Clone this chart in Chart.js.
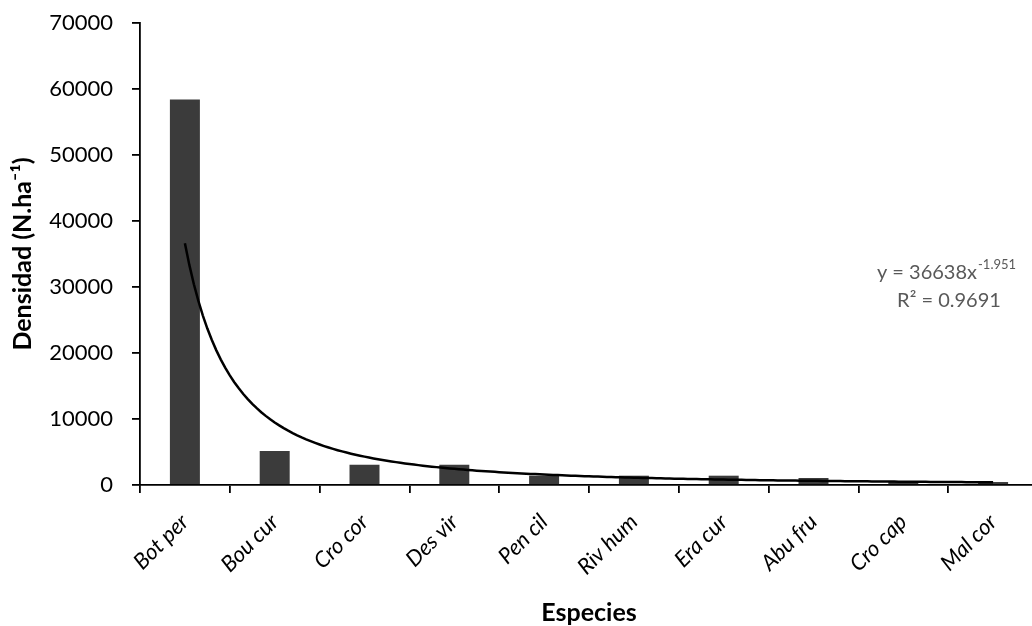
<!DOCTYPE html>
<html>
<head>
<meta charset="utf-8">
<script src="https://cdn.jsdelivr.net/npm/chart.js@4.4.0/dist/chart.umd.min.js"></script>
<style>
  html, body { margin: 0; padding: 0; background: #fff; overflow: hidden; }
  #wrap { width: 1032px; height: 626px; overflow: hidden; }
</style>
</head>
<body>
<div id="wrap"><canvas id="myBarChart" width="1040" height="626"></canvas></div>
<script>
// datos
const especies = ["Bot per", "Bou cur", "Cro cor", "Des vir", "Pen cil", "Riv hum", "Era cur", "Abu fru", "Cro cap", "Mal cor"];
const densidad = [58400, 5150, 3070, 3070, 1410, 1410, 1410, 1060, 600, 450];
const yTicks = [0, 10000, 20000, 30000, 40000, 50000, 60000, 70000];
// linea de tendencia potencial (ecuacion que muestra el grafico)
const trendA = 36638;
const trendB = -1.951;
const trendR2 = 0.9691;

const trendPts = [];
for (let i = 0; i <= 180; i++) {
  const x = 1 + i * 9 / 180;
  trendPts.push({ x: x, y: trendA * Math.pow(x, trendB) });
}

const FONT = "Lato, 'Open Sans', sans-serif";

// texto de la ecuacion
const eqLabel = {
  id: 'eqLabel',
  afterDraw(chart) {
    const c = chart.ctx;
    const area = chart.chartArea;
    c.save();
    c.fillStyle = '#595959';
    c.textBaseline = 'alphabetic';
    const main = "y = " + trendA + "x";
    const sup = String(trendB);
    c.font = "20px " + FONT;
    const w1 = c.measureText(main).width;
    c.font = "13px " + FONT;
    const w2 = c.measureText(sup).width;
    const cx = area.right - 92;
    const x0 = cx - (w1 + w2) / 2;
    const y1 = 279;
    c.font = "20px " + FONT;
    c.textAlign = 'left';
    c.fillText(main, x0, y1);
    c.font = "13px " + FONT;
    c.fillText(sup, x0 + w1 + 1, y1 - 10);
    c.font = "20px " + FONT;
    c.textAlign = 'center';
    c.fillText("R² = " + trendR2, cx + 3, y1 + 28);
    c.restore();
  }
};

const ctx = document.getElementById("myBarChart");
const myBarChart = new Chart(ctx, {
  type: 'bar',
  data: {
    labels: especies,
    datasets: [{
      label: 'Densidad',
      data: densidad,
      backgroundColor: '#3b3b3b',
      barPercentage: 0.334,
      categoryPercentage: 1.0,
      grouped: false,
      order: 2
    }, {
      type: 'line',
      label: 'Potencial',
      data: trendPts,
      xAxisID: 'xt',
      borderColor: '#000',
      borderWidth: 2.5,
      pointRadius: 0,
      fill: false,
      tension: 0,
      order: 1
    }]
  },
  options: {
    responsive: false,
    animation: false,
    layout: { padding: { left: 0, right: 2, top: 23, bottom: 0 } },
    plugins: {
      legend: { display: false },
      tooltip: { enabled: false }
    },
    scales: {
      x: {
        offset: true,
        afterFit(axis) { axis.height = 141; axis.paddingLeft = 0; axis.paddingRight = 0; },
        border: { color: '#000', width: 1.8 },
        grid: { offset: true, drawOnChartArea: false, drawTicks: true, tickLength: 8, color: '#000', lineWidth: 1.8 },
        ticks: {
          color: '#000',
          maxRotation: 45, minRotation: 45,
          font: { family: FONT, size: 22, style: 'italic' },
          padding: 16
        },
        title: {
          display: true, text: 'Especies', color: '#000',
          font: { family: FONT, size: 25, weight: 'bold' },
          padding: { top: 0, bottom: -2 }
        }
      },
      xt: {
        type: 'linear',
        display: false,
        offset: false,
        grid: { offset: false },
        min: 0.5, max: 10.5
      },
      y: {
        min: 0, max: 70000,
        afterBuildTicks(axis) { axis.ticks = yTicks.map(v => ({ value: v })); },
        afterFit(axis) { axis.width = 140; axis.paddingTop = 13; axis.paddingBottom = 13; },
        border: { color: '#000', width: 1.8 },
        grid: { drawOnChartArea: false, drawTicks: true, tickLength: 8, color: '#000', lineWidth: 1.8 },
        ticks: {
          color: '#000',
          font: { family: FONT, size: 22 },
          padding: 19,
          callback: function(value) { return String(value); }
        },
        title: {
          display: true, text: 'Densidad (N.ha⁻¹)', color: '#000',
          font: { family: FONT, size: 25, weight: 'bold' },
          padding: { top: 8, bottom: 0 }
        }
      }
    }
  },
  plugins: [eqLabel]
});
</script>
</body>
</html>
